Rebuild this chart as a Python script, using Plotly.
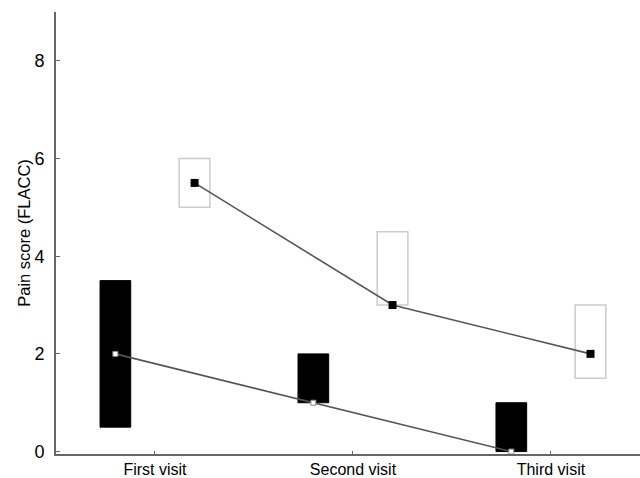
import plotly.graph_objects as go

visits = ["First visit", "Second visit", "Third visit"]
# Group A (black filled boxes)
a_median = [2, 1, 0]
a_q1 = [0.5, 1.0, 0.0]
a_q3 = [3.5, 2.0, 1.0]
# Group B (open grey boxes)
b_median = [5.5, 3, 2]
b_q1 = [5.0, 3.0, 1.5]
b_q3 = [6.0, 4.5, 3.0]

yticks = [0, 2, 4, 6, 8]

xa = [i - 0.2 for i in range(len(visits))]
xb = [i + 0.2 for i in range(len(visits))]
bw = 0.155

fig = go.Figure()
fig.add_trace(go.Bar(x=xa, y=[h - l for h, l in zip(a_q3, a_q1)], base=a_q1, width=bw,
                     marker=dict(color="black", line=dict(color="black", width=1)), showlegend=False))
fig.add_trace(go.Bar(x=xb, y=[h - l for h, l in zip(b_q3, b_q1)], base=b_q1, width=bw,
                     marker=dict(color="rgba(255,255,255,0)", line=dict(color="#cccccc", width=1.5)),
                     showlegend=False))
fig.add_trace(go.Scatter(x=xa, y=a_median, mode="lines+markers",
                         line=dict(color="#555555", width=1.6),
                         marker=dict(symbol="square", size=5, color="white", line=dict(color="#888888", width=1)),
                         showlegend=False, cliponaxis=False))
fig.add_trace(go.Scatter(x=xb, y=b_median, mode="lines+markers",
                         line=dict(color="#555555", width=1.6),
                         marker=dict(symbol="square", size=8, color="black"),
                         showlegend=False, cliponaxis=False))

fig.update_layout(
    width=640, height=478,
    margin=dict(l=56, r=0, t=12, b=24),
    plot_bgcolor="white", paper_bgcolor="white",
    barmode="overlay",
    font=dict(family="Liberation Sans, Arial, sans-serif", color="black", size=16),
    xaxis=dict(range=[-0.5, 2.45], tickvals=list(range(len(visits))), ticktext=visits,
               showgrid=False, zeroline=False, showline=True, linecolor="#666666", linewidth=2,
               ticks="inside", ticklen=3, tickcolor="#666666", tickfont=dict(size=16)),
    yaxis=dict(range=[-0.05, 9.0], tickvals=yticks, showgrid=False, zeroline=False,
               showline=True, linecolor="#666666", linewidth=2,
               ticks="inside", ticklen=4, tickcolor="#666666", tickfont=dict(size=18),
               ticklabelstandoff=6,
               title=dict(text="Pain score (FLACC)", font=dict(size=16.5), standoff=0)),
)

fig.write_html("out.html", config={"displayModeBar": False},
               post_script="document.body.style.margin='0';")
